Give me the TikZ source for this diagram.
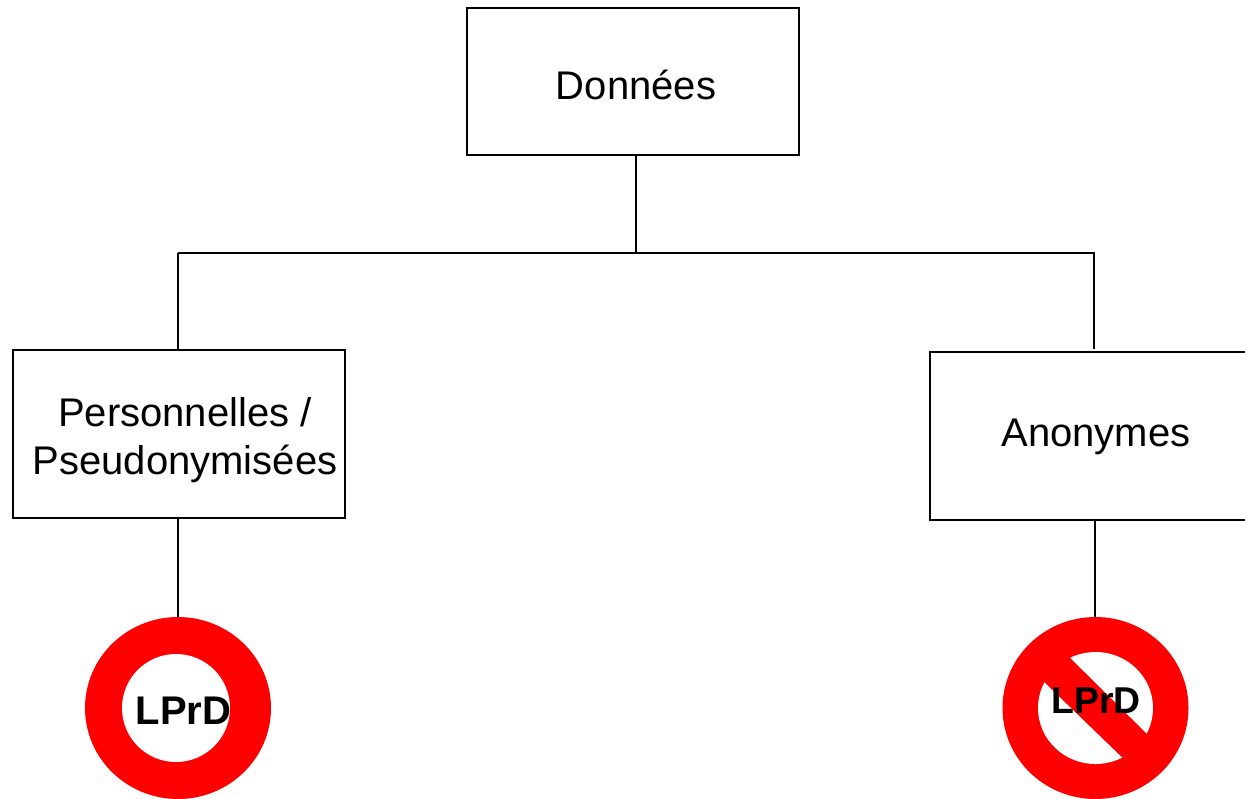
\documentclass[tikz,border=0pt]{standalone}
\usepackage{fontspec}
\setmainfont{Liberation Sans}
\usetikzlibrary{shapes.geometric}
\tikzset{
  box/.style={draw=black,line width=1.3pt,fill=white,rectangle,inner sep=0pt,outer sep=0pt,anchor=north west},
  link/.style={draw=black,line width=1.3pt},
  lbl/.style={inner sep=0pt,font=\fontsize{30}{35.5}\selectfont,align=center},
  ring/.style={ellipse,fill=red,inner sep=0pt,outer sep=0pt,minimum width=139.5pt,minimum height=136.5pt},
  hole/.style={ellipse,fill=white,inner sep=0pt,outer sep=0pt},
  law/.style={inner sep=0pt,anchor=base,font=\bfseries}
}
\begin{document}
\begin{tikzpicture}[x=0.75pt,y=-0.75pt]
\useasboundingbox (0,0) rectangle (1245,799);
\clip (0,0) rectangle (1245,799);
% boxes
\node[box,minimum width=249pt,minimum height=110.25pt] (don) at (467,8) {};
\node[box,minimum width=249pt,minimum height=126pt] (per) at (13,350) {};
\node[box,minimum width=245.25pt,minimum height=126pt] (ano) at (930,352) {};
% box texts
\node[lbl,anchor=base] (tdon) at (636,99) {Données};
\node[lbl] (tper) at (185,440) {Personnelles /\\Pseudonymisées};
\node[lbl,anchor=base] (tano) at (1096,446) {Anonymes};
% junctions
\coordinate (bus) at (636,253);
\coordinate (busl) at (178,253);
\coordinate (busr) at (1095,253);
\coordinate (drop) at (1093.7,253);
\coordinate (dropend) at (1093.7,349);
\coordinate (stem) at (1095.2,617);
% rings
\node[ring] (rl) at (178,708) {};
\node[hole,minimum width=81pt,minimum height=81pt] (hl) at (176,708) {};
\node[ring] (rr) at (1095.5,708) {};
\node[hole,minimum width=86.25pt,minimum height=84pt] (hr) at (1095.5,708) {};
\fill[red] (1062,650) -- (1154,741) -- (1129,764) -- (1037,675) -- cycle;
\node[law,font=\bfseries\fontsize{30}{36}\selectfont] (tl) at (183.5,724) {LPrD};
\node[law,font=\bfseries\fontsize{28}{34}\selectfont] (tr) at (1096,713) {LPrD};
% connectors
\draw[link] (don.south -| bus) -- (bus);
\draw[link] (busl) -- (busr);
\draw[link] (busl) -- (per.north -| busl);
\draw[link] (drop) -- (dropend);
\draw[link] (per.south -| rl) -- (rl.north);
\draw[link] (ano.south -| stem) -- (stem);
\end{tikzpicture}
\end{document}
